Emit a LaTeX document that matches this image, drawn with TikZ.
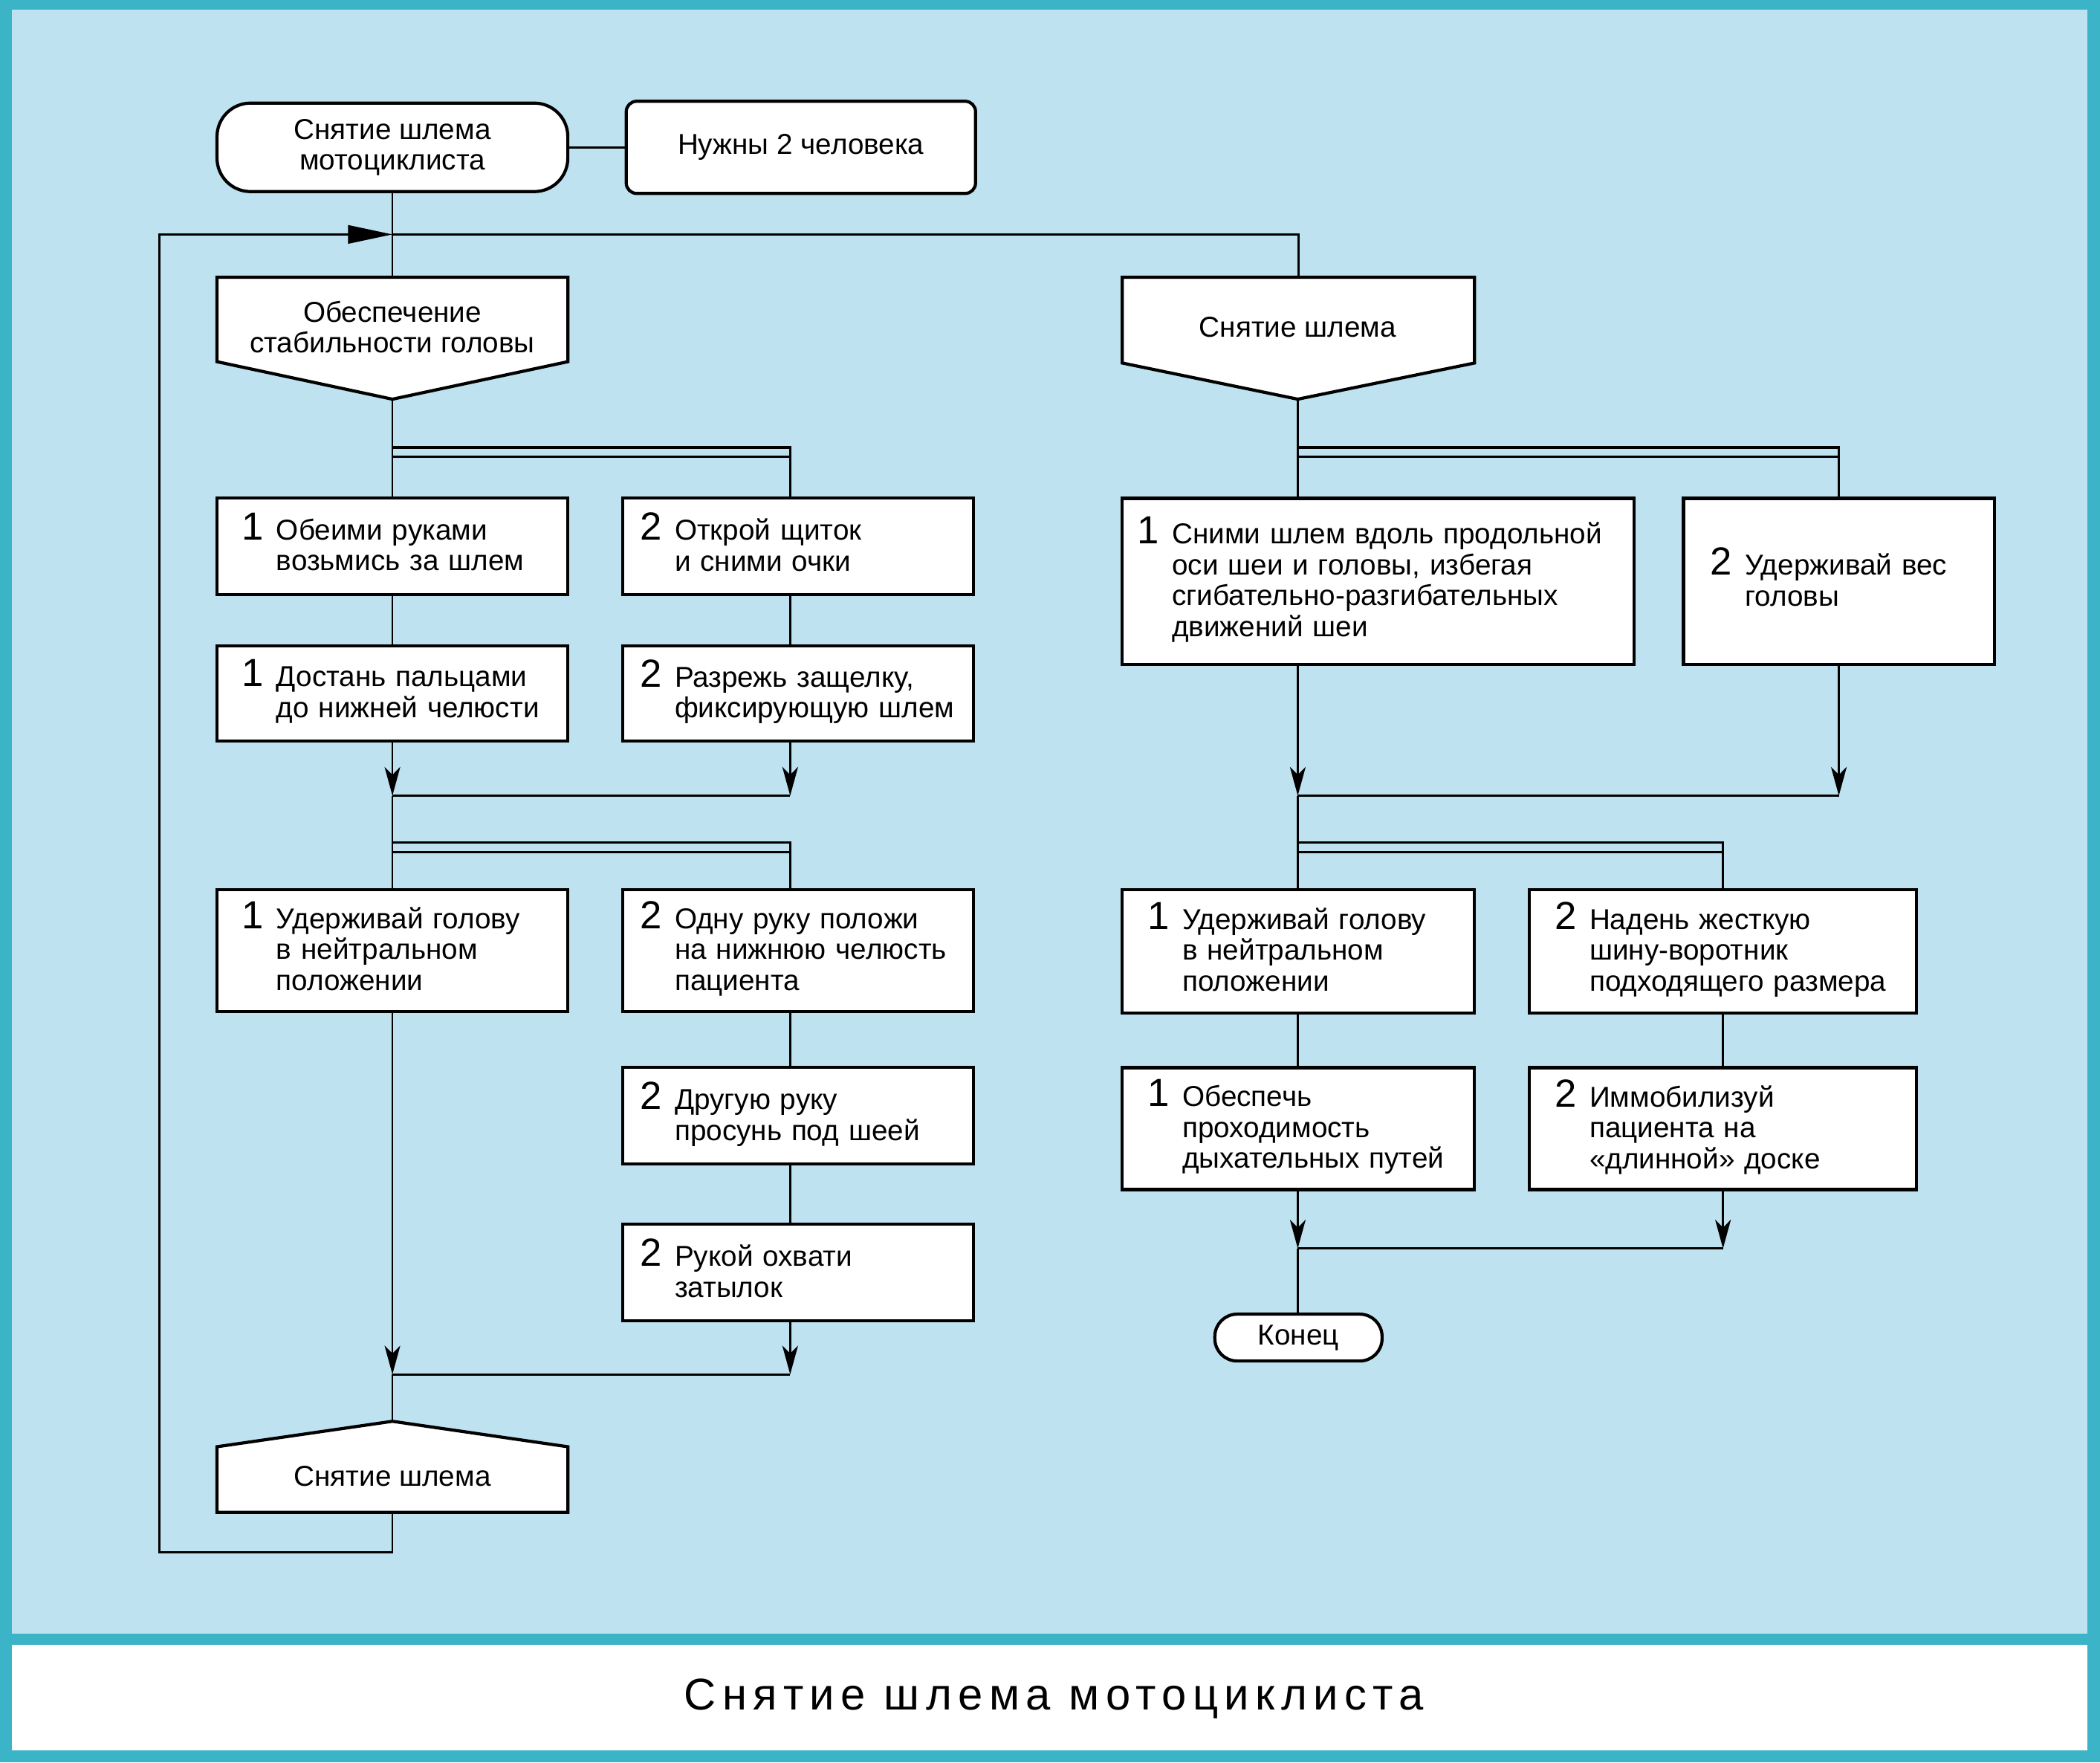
\documentclass[tikz,border=0pt]{standalone}
\usepackage{fontspec}
\setmainfont{Liberation Sans}
\newfontfamily\titlefont[LetterSpace=14]{Liberation Sans}
\usetikzlibrary{arrows.meta}

\definecolor{panelblue}{RGB}{190,226,240}
\definecolor{frameteal}{RGB}{59,180,200}

% step number in front of a left aligned block of lines
\newcommand{\numtext}[2]{\mbox{{\fontsize{15pt}{15pt}\selectfont #1}\hspace{5pt}\begin{tabular}[t]{@{}l@{}}#2\end{tabular}}}

\tikzset{
  txt/.style={font=\fontsize{11pt}{11.8pt}\selectfont},
  box/.style={txt, draw, fill=white, line width=1.2pt, inner ysep=0pt, align=left},
  lbox/.style={box, text width=4.06cm, inner xsep=0.33cm},
  rbox/.style={box, text width=4.26cm, inner xsep=0.23cm},
  pent/.style={draw, fill=white, line width=1.2pt, line join=miter},
  term/.style={txt, draw, fill=white, line width=1.2pt, align=center},
  line/.style={line width=0.8pt},
  bar/.style={line width=1pt},
  arr/.style={line, -{Stealth[length=11pt,width=6pt,inset=3pt]}}
}

\begin{document}
\begin{tikzpicture}[x=0.018023cm, y=-0.018023cm]
  % frame
  \fill[frameteal] (0,0) rectangle (1568,1315.6);
  \fill[panelblue] (8.9,7.2) rectangle (1558.6,1219.5);
  \fill[white] (8.9,1227.9) rectangle (1558.6,1306.7);
  \useasboundingbox (0,0) rectangle (1568,1315.6);

  \node[font=\titlefont\fontsize{17pt}{17pt}\selectfont] (title) at (787,1268) {Снятие шлема мотоциклиста};

  % head of the chart
  \node[term, minimum width=4.72cm, minimum height=1.19cm, rounded corners=0.45cm] (start) at (293,110) {Снятие шлема\\мотоциклиста};
  \node[term, minimum width=4.70cm, minimum height=1.24cm, rounded corners=0.14cm] (need) at (598,110) {Нужны 2 человека};
  \draw[line] (start) -- (need);

  \draw[pent] (162,207) -- coordinate (stab-top) (424,207) -- (424,270) -- (293,298) coordinate (stab-tip) -- (162,270) -- cycle;
  \node[txt, align=center] (stab) at (293,244) {Обеспечение\\стабильности головы};
  \draw[pent] (838,207) -- coordinate (helmR-top) (1101,207) -- (1101,271) -- (969,298) coordinate (helmR-tip) -- (838,271) -- cycle;
  \node[txt] (helmR) at (969,244) {Снятие шлема};
  \draw[pent] (162,1080) -- (293,1061) coordinate (helmL-tip) -- (424,1080) -- (424,1129) -- coordinate (helmL-bot) (162,1129) -- cycle;
  \node[txt] (helmL) at (293,1102) {Снятие шлема};

  \coordinate (tj) at (293,175);
  \coordinate (loop-b) at (119,1159);
  \draw[line] (start) -- (stab-top);
  \draw[line, -{Triangle[length=17pt,width=7pt]}] (helmL-bot) |- (loop-b) |- (tj);
  \draw[line] (tj) -| (helmR-top);

  % left branch
  \coordinate (rc1) at (590,0);
  \node[lbox, minimum height=1.30cm] (l1a) at (293,408) {\numtext{1}{Обеими руками\\возьмись за шлем}};
  \node[rbox, minimum height=1.30cm] (r1a) at (596,408) {\numtext{2}{Открой щиток\\и сними очки}};
  \node[lbox, minimum height=1.28cm] (l1b) at (293,517.5) {\numtext{1}{Достань пальцами\\до нижней челюсти}};
  \node[rbox, minimum height=1.28cm] (r1b) at (596,517.5) {\numtext{2}{Разрежь защелку,\\фиксирующую шлем}};
  \node[lbox, minimum height=1.64cm] (l2) at (293,709.5) {\numtext{1}{Удерживай голову\\в нейтральном\\положении}};
  \node[rbox, minimum height=1.64cm] (r2a) at (596,709.5) {\numtext{2}{Одну руку положи\\на нижнюю челюсть\\пациента}};
  \node[rbox, minimum height=1.30cm] (r2b) at (596,833) {\numtext{2}{Другую руку\\просунь под шеей}};
  \node[rbox, minimum height=1.30cm] (r2c) at (596,950) {\numtext{2}{Рукой охвати\\затылок}};

  \coordinate (fk1) at (293,334);
  \coordinate (fk1b) at (293,341);
  \coordinate (jn1) at (293,594);
  \coordinate (fk2) at (293,629);
  \coordinate (fk2b) at (293,636);
  \coordinate (jn2) at (293,1026);

  \draw[line] (stab-tip) -- (l1a);
  \draw[bar] (fk1) -| (r1a.north -| rc1);
  \draw[bar] (fk1b) -- (fk1b -| rc1);
  \draw[line] (l1a) -- (l1b);
  \draw[line] (r1a.south -| rc1) -- (r1b.north -| rc1);
  \draw[arr] (l1b) -- (jn1);
  \draw[arr] (r1b.south -| rc1) -- (jn1 -| rc1);
  \draw[line] (jn1) -- (jn1 -| rc1);
  \draw[line] (jn1) -- (l2);
  \draw[bar] (fk2) -| (r2a.north -| rc1);
  \draw[bar] (fk2b) -- (fk2b -| rc1);
  \draw[line] (r2a.south -| rc1) -- (r2b.north -| rc1);
  \draw[line] (r2b.south -| rc1) -- (r2c.north -| rc1);
  \draw[arr] (l2) -- (jn2);
  \draw[arr] (r2c.south -| rc1) -- (jn2 -| rc1);
  \draw[line] (jn2) -- (jn2 -| rc1);
  \draw[line] (jn2) -- (helmL-tip);

  % right branch
  \coordinate (rc2) at (969,0);
  \node[box, minimum height=2.235cm, text width=6.485cm, inner xsep=0.2cm] (rr1) at (1029,434) {\numtext{1}{Сними шлем вдоль продольной\\оси шеи и головы, избегая\\сгибательно-разгибательных\\движений шеи}};
  \node[box, minimum height=2.235cm, text width=3.46cm, inner xsep=0.36cm] (rr2) at (1373,434) {\numtext{2}{Удерживай вес\\головы}};
  \node[box, minimum height=1.66cm, text width=4.06cm, inner xsep=0.34cm] (rl1) at (969.5,710) {\numtext{1}{Удерживай голову\\в нейтральном\\положении}};
  \node[box, minimum height=1.66cm, text width=4.53cm, inner xsep=0.34cm] (rr3) at (1286.5,710) {\numtext{2}{Надень жесткую\\шину-воротник\\подходящего размера}};
  \node[box, minimum height=1.64cm, text width=4.06cm, inner xsep=0.34cm] (rl2) at (969.5,842.5) {\numtext{1}{Обеспечь\\проходимость\\дыхательных путей}};
  \node[box, minimum height=1.64cm, text width=4.53cm, inner xsep=0.34cm] (rr4) at (1286.5,842.5) {\numtext{2}{Иммобилизуй\\пациента на\\«длинной» доске}};
  \node[term, minimum width=2.25cm, minimum height=0.63cm, rounded corners=0.3cm] (end) at (969.5,998.5) {Конец};

  \coordinate (fk3) at (969,334);
  \coordinate (fk3b) at (969,341);
  \coordinate (jn3) at (969,594);
  \coordinate (fk4) at (969,629);
  \coordinate (fk4b) at (969,636);
  \coordinate (jn4) at (969,932);

  \draw[line] (helmR-tip) -- (rr1.north -| rc2);
  \draw[bar] (fk3) -| (rr2.north);
  \draw[bar] (fk3b) -- (fk3b -| rr2);
  \draw[arr] (rr1.south -| rc2) -- (jn3);
  \draw[arr] (rr2) -- (jn3 -| rr2);
  \draw[line] (jn3) -- (jn3 -| rr2);
  \draw[line] (jn3) -- (rl1.north -| rc2);
  \draw[bar] (fk4) -| (rr3.north);
  \draw[bar] (fk4b) -- (fk4b -| rr3);
  \draw[line] (rl1.south -| rc2) -- (rl2.north -| rc2);
  \draw[line] (rr3) -- (rr4);
  \draw[arr] (rl2.south -| rc2) -- (jn4);
  \draw[arr] (rr4) -- (jn4 -| rr4);
  \draw[line] (jn4) -- (jn4 -| rr4);
  \draw[line] (jn4) -- (end.north -| rc2);
\end{tikzpicture}
\end{document}
